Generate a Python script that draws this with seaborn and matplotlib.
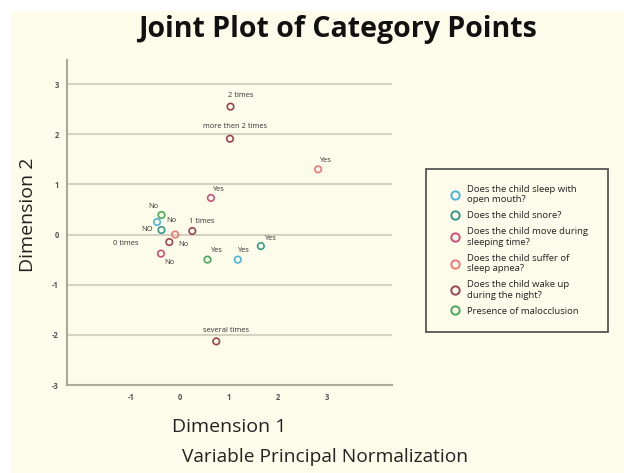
import numpy as np
import pandas as pd
import seaborn as sns
import matplotlib.pyplot as plt
from matplotlib.lines import Line2D
from matplotlib.patches import Rectangle

# data
questions = [
    "Does the child sleep with\nopen mouth?",
    "Does the child snore?",
    "Does the child move during\nsleeping time?",
    "Does the child suffer of\nsleep apnea?",
    "Does the child wake up\nduring the night?",
    "Presence of malocclusion",
]
colors = ["#4fb4dc", "#35998a", "#d24d78", "#f27878", "#9b4552", "#48a95c"]

point_question = [0, 0, 1, 1, 2, 2, 3, 3, 4, 4, 4, 4, 4, 5, 5]
point_labels = ["Yes", "No", "Yes", "NO", "Yes", "No", "Yes", "No",
                "0 times", "1 times", "2 times", "more then 2 times",
                "several times", "Yes", "No"]
dim1 = [1.18, -0.47, 1.65, -0.38, 0.63, -0.39, 2.82, -0.10,
        -0.22, 0.25, 1.03, 1.02, 0.74, 0.56, -0.38]
dim2 = [-0.50, 0.25, -0.23, 0.09, 0.73, -0.38, 1.30, 0.00,
        -0.15, 0.07, 2.55, 1.91, -2.13, -0.50, 0.39]

# label offsets in pixels (right, up)
label_dx = [5, 14, 9, -14, 7, 8, 7, 8, -44, 9, 10, 5, 10, 8, -8]
label_dy = [9, 1, 8, 1, 8, -9, 9, -10, -1, 10, 11, 12, 11, 9, 8]

df = pd.DataFrame({"dim1": dim1, "dim2": dim2,
                   "question": [questions[i] for i in point_question],
                   "label": point_labels})

cream = "#fdfbea"
sns.set_style("white")
plt.rcParams["font.family"] = ["Open Sans", "DejaVu Sans"]
plt.rcParams["axes.unicode_minus"] = False

fig = plt.figure(figsize=(6.24, 4.73), dpi=100, facecolor=cream)
# white strips top and left like the screenshot
fig.patches.append(Rectangle((0, 1 - 11 / 473), 1, 11 / 473, transform=fig.transFigure,
                             facecolor="white", edgecolor="none", zorder=0))
fig.patches.append(Rectangle((0, 0), 11 / 624, 1, transform=fig.transFigure,
                             facecolor="white", edgecolor="none", zorder=0))

ax = fig.add_axes([67 / 624, 1 - 385 / 473, 325 / 624, 325 / 473])
ax.set_facecolor(cream)

sns.scatterplot(data=df, x="dim1", y="dim2", hue="question", hue_order=questions,
                palette=colors, s=22, linewidth=1.2, legend=False, ax=ax, zorder=3)
coll = ax.collections[0]
fc = coll.get_facecolors()
coll.set_edgecolors(fc)
coll.set_facecolors("none")

for x, y, lab, dx, dy in zip(dim1, dim2, point_labels, label_dx, label_dy):
    ax.annotate(lab, (x, y), xytext=(dx, dy), textcoords="offset pixels",
                ha="center", va="center", fontsize=5.4, color="#333333")

ax.set_xlim(-2.31, 4.33)
ax.set_ylim(-3, 3.48)
ax.set_xticks([-1, 0, 1, 2, 3])
ax.set_yticks([-3, -2, -1, 0, 1, 2, 3])
ax.tick_params(length=0, labelsize=5.5, labelcolor="#555555", pad=6)
for t in ax.get_xticklabels() + ax.get_yticklabels():
    t.set_fontweight("bold")
for y in range(-2, 4):
    ax.axhline(y, color="#d5d2c2", lw=1.5, zorder=1)
for s in ["top", "right"]:
    ax.spines[s].set_visible(False)
for s in ["left", "bottom"]:
    ax.spines[s].set_color("#aaa898")
    ax.spines[s].set_linewidth(1.5)
ax.set_xlabel("")
ax.set_ylabel("")

fig.text(338 / 624, 1 - 30 / 473, "Joint Plot of Category Points", ha="center", va="center",
         fontsize=20.5, fontweight="bold", color="#111111")
fig.text(229 / 624, 1 - 427 / 473, "Dimension 1", ha="center", va="center",
         fontsize=14, color="#222222")
fig.text(325 / 624, 1 - 457 / 473, "Variable Principal Normalization", ha="center",
         va="center", fontsize=13.8, color="#222222")
fig.text(28 / 624, 1 - 215 / 473, "Dimension 2", ha="center", va="center",
         rotation=90, fontsize=14, color="#222222")

# legend box
fig.patches.append(Rectangle((426 / 624, 1 - 332 / 473), 182 / 624, 163 / 473,
                             transform=fig.transFigure, facecolor="none",
                             edgecolor="#555555", lw=1.3, zorder=5))
handles = [Line2D([], [], ls="none", marker="o", markersize=6, markerfacecolor="none",
                  markeredgecolor=c, markeredgewidth=1.4) for c in colors]
fig.legend(handles, questions, loc="upper left", bbox_to_anchor=(446 / 624, 1 - 180 / 473),
           frameon=False, fontsize=6.8, handlelength=1.0, handletextpad=0.7,
           labelspacing=0.75, borderpad=0, labelcolor="#222222")

fig.savefig("out.png", dpi=100, facecolor=cream)
